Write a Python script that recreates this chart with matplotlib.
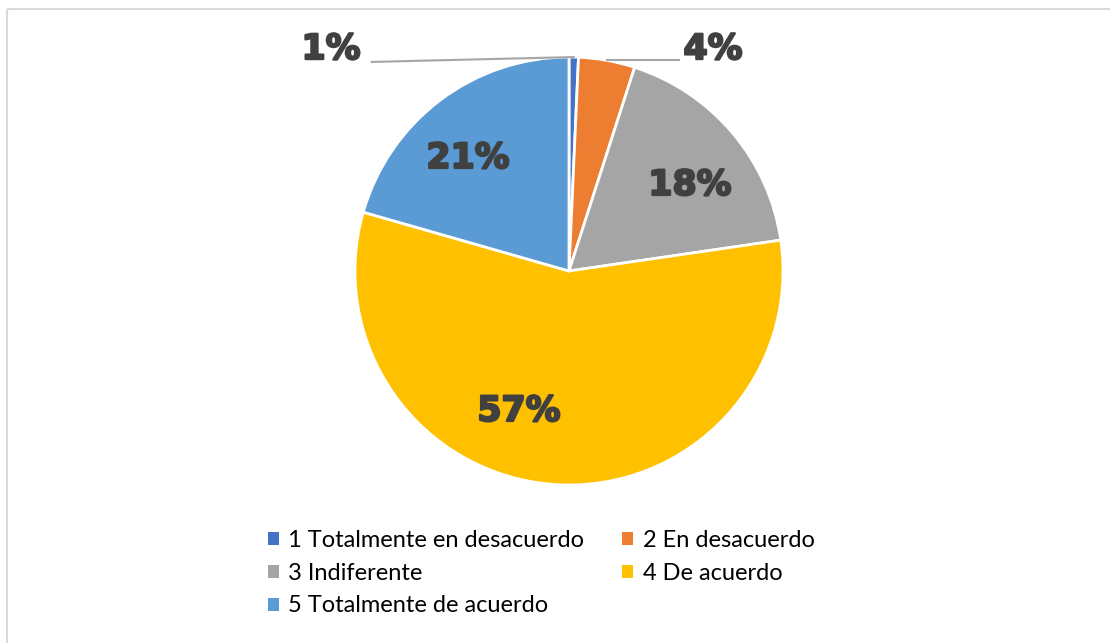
import matplotlib.pyplot as plt
from matplotlib.patches import Rectangle
import matplotlib.patheffects as pe
import numpy as np

# survey answers (counts), order as in the legend
categories = ["1 Totalmente en desacuerdo", "2 En desacuerdo", "3 Indiferente",
              "4 De acuerdo", "5 Totalmente de acuerdo"]
counts = [1, 6, 25, 80, 29]
colors = ["#4472C4", "#ED7D31", "#A5A5A5", "#FFC000", "#5B9BD5"]

# label positions (data units, pie radius = 1)
label_pos = [(-1.112, 1.037), (0.673, 1.037), (0.565, 0.402),
             (-0.234, -0.654), (-0.472, 0.528)]

W, H = 1110, 643
fig = plt.figure(figsize=(W / 100, H / 100), dpi=100)

# outer chart border
fig.patches.append(Rectangle((7 / W, 1 - 9 / H), 1.2, -1.2, transform=fig.transFigure,
                             fill=False, ec="#D9D9D9", lw=1.5))

cx, cy, r = 569, 271, 214
half = 1.3 * r
ax = fig.add_axes([(cx - half) / W, (H - cy - half) / H, 2 * half / W, 2 * half / H])

wedges, _ = ax.pie(counts, colors=colors, startangle=90, counterclock=False,
                   radius=1, wedgeprops=dict(edgecolor="white", linewidth=2))
ax.set_xlim(-1.3, 1.3)
ax.set_ylim(-1.3, 1.3)
ax.set_aspect("equal")
ax.axis("off")

total = sum(counts)
pcts = [100 * c / total for c in counts]
for p, (x, y) in zip(pcts, label_pos):
    ax.text(x, y, f"{p:.0f}%", ha="center", va="center", fontsize=25,
            fontweight="heavy", color="#404040", clip_on=False,
            path_effects=[pe.withStroke(linewidth=1.6, foreground="#404040")])

# leader lines for the two small slices
cum = np.cumsum([0] + pcts)
for i in (0, 1):
    mid = (cum[i] + cum[i + 1]) / 2
    ang = np.deg2rad(90 - 3.6 * mid)
    ex, ey = np.cos(ang), np.sin(ang)
    lx, ly = label_pos[i]
    if lx < 0:
        ax.plot([lx + 0.19, ex], [ly - 0.06, ey], color="#A6A6A6", lw=1.5, clip_on=False)
    else:
        ax.plot([ex, lx - 0.16], [ey, ey], color="#A6A6A6", lw=1.5, clip_on=False)

# legend, row-major order
order = [0, 2, 4, 1, 3]
leg = fig.legend([wedges[i] for i in order], [categories[i] for i in order],
                 ncol=2, loc="upper left", bbox_to_anchor=(256 / W, 1 - 518 / H),
                 frameon=False, prop=dict(family="Lato", size=17),
                 handlelength=0.47, handleheight=0.47, handletextpad=0.4,
                 labelspacing=0.5, columnspacing=1.6, borderpad=0)
for h in leg.legend_handles:
    h.set_edgecolor("none")

fig.savefig("out.png", dpi=100)
